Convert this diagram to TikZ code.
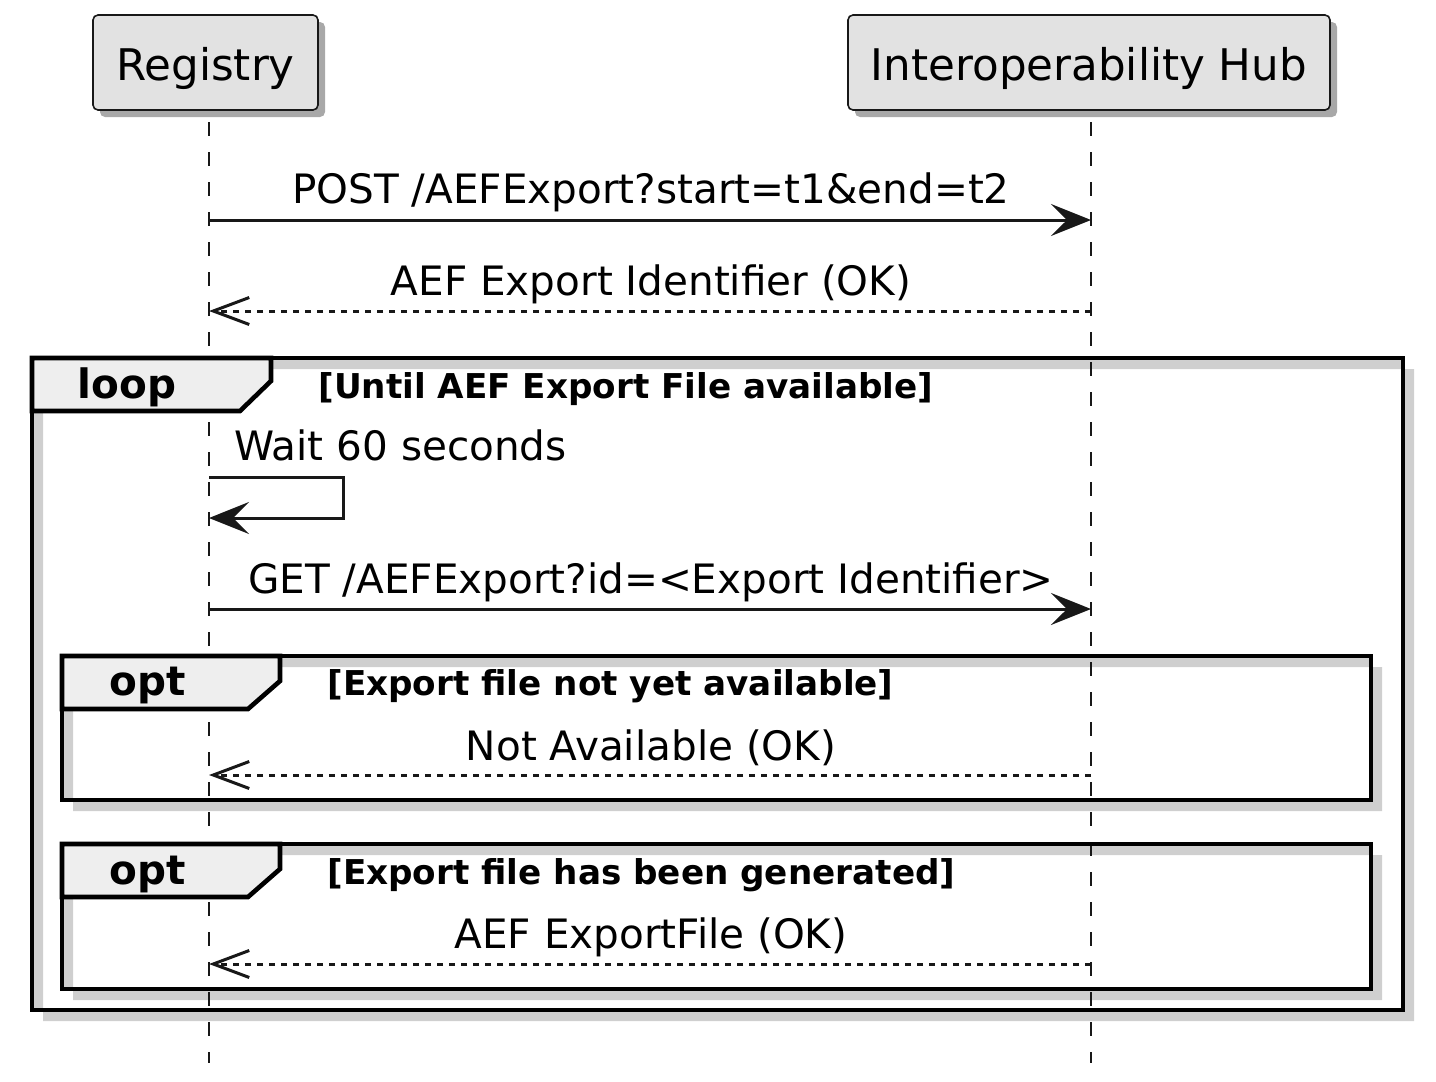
\documentclass[tikz,border=0pt]{standalone}
\usepackage{fontspec}
\setmainfont{DejaVu Sans}
\usetikzlibrary{arrows.meta}
\definecolor{partfill}{HTML}{E2E2E2}
\definecolor{partline}{HTML}{181818}
\definecolor{partshadow}{HTML}{A8A8A8}
\definecolor{tabfill}{HTML}{EEEEEE}
\definecolor{frameshadow}{HTML}{CFCFCF}
\newcommand{\msgsize}{\fontsize{20.25pt}{24pt}\selectfont}
\newcommand{\partsize}{\fontsize{21.8pt}{26pt}\selectfont}
\newcommand{\grpsize}{\fontsize{20.25pt}{24pt}\selectfont}
\newcommand{\condsize}{\fontsize{17.1pt}{20pt}\selectfont}
\begin{document}
\begin{tikzpicture}[x=0.5pt,y=-0.5pt,
   participant/.style={draw=partline, fill=partfill, line width=0.8pt, rounded corners=2.5pt,
     minimum height=47.5pt, text height=17.5pt, text depth=0pt, inner sep=0pt, font=\partsize,
     preaction={fill=partshadow, draw=none, transform canvas={xshift=3.5pt, yshift=-3.5pt}}},
   lifeline/.style={draw=partline, line width=0.8pt, dash pattern=on 7pt off 8pt},
   call/.style={draw=partline, line width=1.5pt, -{Stealth[length=20pt,width=16pt,inset=8pt]}},
   reply/.style={draw=partline, line width=1.5pt, dash pattern=on 3pt off 3pt,
     -{Straight Barb[length=18pt,width=13.5pt]}},
   msglabel/.style={anchor=base, inner sep=0pt, font=\msgsize},
   frame/.style={draw=black, line width=2.3pt},
   tab/.style={draw=black, fill=tabfill, line width=2.3pt, line join=miter},
   grplabel/.style={anchor=base, inner sep=0pt, font=\bfseries\grpsize},
   condlabel/.style={anchor=base west, inner sep=0pt, font=\bfseries\condsize}]
  \useasboundingbox (0,0) rectangle (1436,1082);

  % participants
  \node[participant, minimum width=112.5pt] (reg) at (205.5,62.5) {Registry};
  \node[participant, minimum width=241pt] (hub) at (1089,62.5) {Interoperability Hub};

  % frame shadows
  \fill[frameshadow, even odd rule] (43,369) rectangle (1414,1021) (32,358) rectangle (1403,1010);
  \fill[frameshadow, even odd rule] (73,667) rectangle (1382,811) (62,656) rectangle (1371,800);
  \fill[frameshadow, even odd rule] (73,855) rectangle (1382,1000) (62,844) rectangle (1371,989);

  % lifelines
  \coordinate (reg-top) at (209,122);
  \coordinate (reg-end) at (209,1063);
  \coordinate (hub-top) at (1091,122);
  \coordinate (hub-end) at (1091,1063);
  \draw[lifeline] (reg-top) -- (reg-end);
  \draw[lifeline] (hub-top) -- (hub-end);

  % loop
  \draw[frame] (32,358) rectangle (1403,1010);
  \draw[tab] (32,358) -- (271,358) -- (271,381) -- (240,411) -- (32,411) -- cycle;
  \node[grplabel] (loop) at (127,398) {loop};
  \node[condlabel] (loopcond) at (318,398) {[Until AEF Export File available]};

  % opt 1
  \draw[frame] (62,656) rectangle (1371,800);
  \draw[tab] (62,656) -- (280,656) -- (280,681) -- (248,709) -- (62,709) -- cycle;
  \node[grplabel] (optA) at (147.5,695) {opt};
  \node[condlabel] (optAcond) at (327,695) {[Export file not yet available]};

  % opt 2
  \draw[frame] (62,844) rectangle (1371,989);
  \draw[tab] (62,844) -- (280,844) -- (280,869) -- (248,897) -- (62,897) -- cycle;
  \node[grplabel] (optB) at (147.5,884) {opt};
  \node[condlabel] (optBcond) at (327,884) {[Export file has been generated]};

  % messages
  \coordinate (reg-a) at (209,220);
  \coordinate (hub-a) at (1091,220);
  \draw[call] (reg-a) -- (hub-a);
  \node[msglabel] (post) at (651,203) {POST /AEFExport?start=t1\&end=t2};

  \coordinate (reg-b) at (209,311);
  \coordinate (hub-b) at (1091,311);
  \draw[reply] (hub-b) -- (reg-b);
  \node[msglabel] (ident) at (651,295) {AEF Export Identifier (OK)};

  \coordinate (reg-c) at (209,477);
  \coordinate (reg-d) at (209,518);
  \draw[call] (reg-c) -- ++(134,0) -- ++(0,41) -- (reg-d);
  \node[msglabel, anchor=base west] (wait) at (234,460) {Wait 60 seconds};

  \coordinate (reg-e) at (209,609);
  \coordinate (hub-e) at (1091,609);
  \draw[call] (reg-e) -- (hub-e);
  \node[msglabel] (get) at (651,593) {GET /AEFExport?id=<Export Identifier>};

  \coordinate (reg-f) at (209,775);
  \coordinate (hub-f) at (1091,775);
  \draw[reply] (hub-f) -- (reg-f);
  \node[msglabel] (notavail) at (651,760) {Not Available (OK)};

  \coordinate (reg-g) at (209,964);
  \coordinate (hub-g) at (1091,964);
  \draw[reply] (hub-g) -- (reg-g);
  \node[msglabel] (file) at (651,948) {AEF ExportFile (OK)};
\end{tikzpicture}
\end{document}
